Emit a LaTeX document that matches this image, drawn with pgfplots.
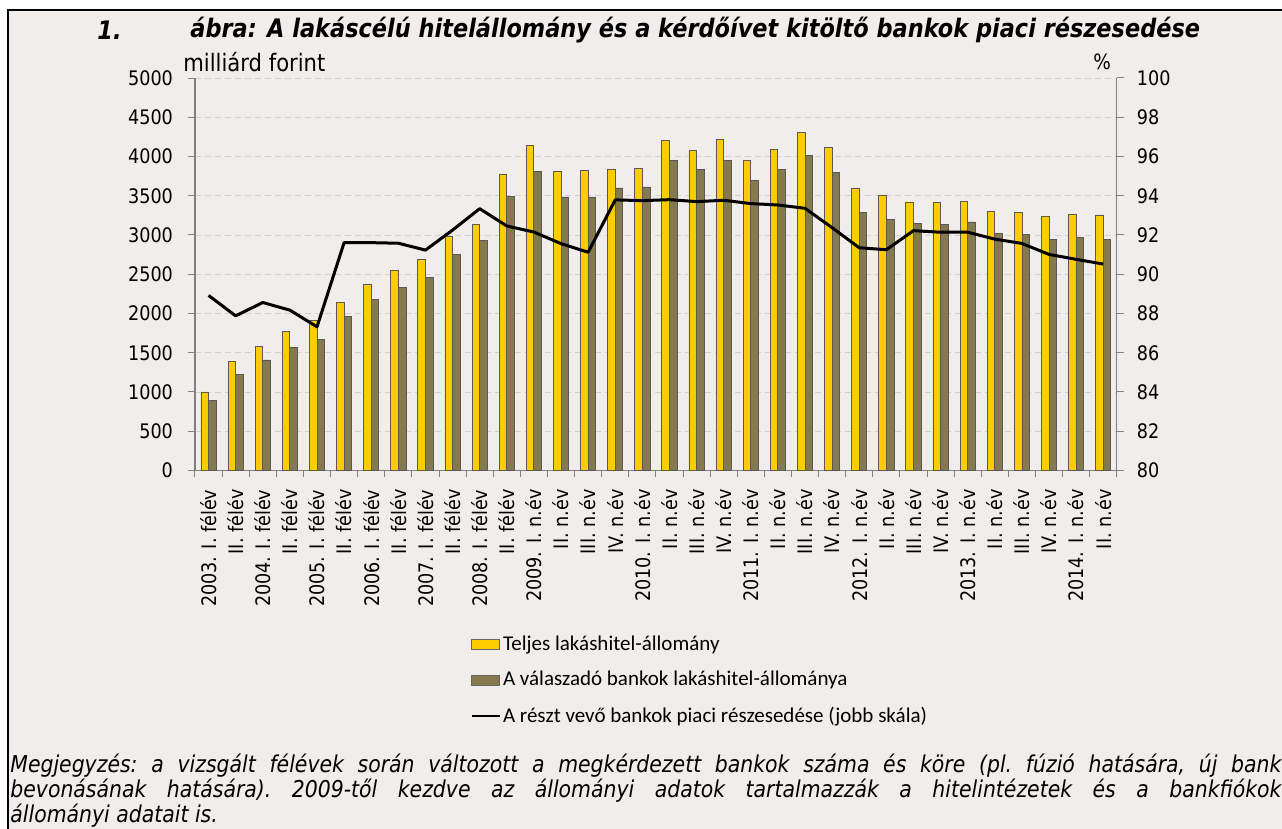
\documentclass[border=0pt]{standalone}
\usepackage{fontspec}
\setmainfont{DejaVu Sans}
\newfontfamily\tahoma[FakeStretch=0.88]{DejaVu Sans}
\newfontfamily\carlito{Carlito}
\usepackage{pgfplots}
\usepackage{pgfplotstable}
\pgfplotsset{compat=1.18}

\definecolor{bg}{RGB}{240,237,234}
\definecolor{bary}{RGB}{255,204,0}
\definecolor{barg}{RGB}{133,121,78}
\definecolor{axgray}{RGB}{128,128,128}
\definecolor{gridgray}{RGB}{212,208,204}

% x, total stock, stock of responding banks, market share (%)
\pgfplotstableread{
x  total resp share
0  1000  890  88.92
1  1390  1225 87.88
2  1583  1408 88.56
3  1774  1570 88.17
4  1915  1672 87.32
5  2136  1962 91.61
6  2374  2183 91.61
7  2544  2332 91.58
8  2689  2455 91.23
9  2983  2753 92.25
10 3140  2932 93.34
11 3774  3494 92.46
12 4145  3813 92.15
13 3808  3485 91.56
14 3821  3485 91.12
15 3838  3600 93.79
16 3843  3612 93.75
17 4204  3953 93.80
18 4081  3830 93.70
19 4213  3953 93.77
20 3949  3698 93.60
21 4089  3830 93.53
22 4302  4017 93.36
23 4115  3800 92.37
24 3596  3290 91.35
25 3510  3200 91.25
26 3421  3149 92.22
27 3412  3140 92.14
28 3425  3166 92.14
29 3298  3025 91.79
30 3290  3008 91.57
31 3238  2945 91.01
32 3264  2966 90.76
33 3255  2945 90.52
}\data

\pgfplotsset{
  common/.style={
    at={(97.5pt,179.25pt)}, anchor=south west,
    scale only axis, width=460.9pt, height=196.25pt,
    xmin=-0.5, xmax=33.5,
    tick align=outside,
    major tick length=3.5pt, minor tick length=3.5pt,
    tick style={axgray, line width=0.5pt},
    axis line style={axgray, line width=0.6pt},
    ticklabel style={font=\tahoma\fontsize{10}{12}\selectfont},
    /pgf/number format/assume math mode=true,
    /pgf/number format/1000 sep={},
  }
}

\begin{document}
\begin{tikzpicture}[x=0.5pt,y=0.5pt]
\useasboundingbox (0,0) rectangle (1282,829);
\clip (0,0) rectangle (1282,829);
\fill[white] (0,0) rectangle (1282,829);
\filldraw[fill=bg, draw=black, line width=1.2pt] (8,819) rectangle (1300,-20);

\node[anchor=west, inner sep=0, font=\tahoma\bfseries\itshape\fontsize{12.75}{15}\selectfont] at (97,799) {1.};
\node[anchor=west, inner sep=0, font=\tahoma\bfseries\itshape\fontsize{12.75}{15}\selectfont] at (190,799) {ábra: A lakáscélú hitelállomány és a kérdőívet kitöltő bankok piaci részesedése};
\node[anchor=west, inner sep=0, font=\tahoma\fontsize{12}{14}\selectfont] at (183,767) {milliárd forint};
\node[anchor=west, inner sep=0, font=\tahoma\fontsize{10.5}{12}\selectfont] at (1093,767) {\%};

\begin{axis}[common,
  ymin=0, ymax=5000, ytick={0,500,...,5000},
  axis x line*=bottom, axis y line*=left,
  yticklabel style={xshift=-4pt},
  xtick={0,...,33},
  major x tick style={draw=none},
  minor xtick={-0.5,0.5,...,33.5},
  xticklabels={{2003. I. félév},{II. félév},{2004. I. félév},{II. félév},{2005. I. félév},{II. félév},{2006. I. félév},{II. félév},{2007. I. félév},{II. félév},{2008. I. félév},{II. félév},{2009. I. n.év},{II. n.év},{III. n.év},{IV. n.év},{2010. I. n.év},{II. n.év},{III. n.év},{IV. n.év},{2011. I. n.év},{II. n.év},{III. n.év},{IV. n.év},{2012. I. n.év},{II. n.év},{III. n.év},{IV. n.év},{2013. I. n.év},{II. n.év},{III. n.év},{IV. n.év},{2014. I. n.év},{II. n.év}},
  xticklabel style={rotate=90, anchor=east},
  xticklabel shift=2.5pt,
  ymajorgrids, grid style={gridgray, dash pattern=on 3pt off 2pt, line width=0.4pt},
  legend style={at={(axis description cs:0.2984,-0.415)}, anchor=north west,
    draw=none, fill=none, font=\carlito\fontsize{10.5}{12}\selectfont,
    row sep=7pt, inner sep=0pt, nodes={inner sep=1pt}},
  legend cell align=left,
]
\addplot[ybar, bar width=3.8pt, bar shift=-1.9pt, fill=bary, draw=black!65, line width=0.4pt,
  legend image code/.code={\draw[fill=bary,draw=black!60,line width=0.4pt] (0pt,-2.6pt) rectangle (14pt,2.6pt);}]
  table[x=x, y=total] {\data};
\addlegendentry{Teljes lakáshitel-állomány}
\addplot[ybar, bar width=3.8pt, bar shift=1.9pt, fill=barg, draw=black!65, line width=0.4pt,
  legend image code/.code={\draw[fill=barg,draw=black!60,line width=0.4pt] (0pt,-2.6pt) rectangle (14pt,2.6pt);}]
  table[x=x, y=resp] {\data};
\addlegendentry{A válaszadó bankok lakáshitel-állománya}
\addlegendimage{black, line width=1.3pt, legend image code/.code={\draw[black,line width=1.3pt] (0pt,0pt) -- (14pt,0pt);}}
\addlegendentry{A részt vevő bankok piaci részesedése (jobb skála)}
\end{axis}

\begin{axis}[common,
  ymin=80, ymax=100, ytick={80,82,...,100},
  axis x line=none, axis y line*=right,
  yticklabel style={xshift=3pt},
]
\addplot[black, line width=1.5pt, line join=round] table[x=x, y=share] {\data};
\end{axis}

\node[anchor=north west, inner sep=0, text width=635.5pt, align=justify,
  font=\tahoma\itshape\fontsize{11.6}{12.3}\selectfont] at (10,75)
  {\frenchspacing Megjegyzés: a vizsgált félévek során változott a megkérdezett bankok száma és köre (pl. fúzió hatására, új bank\linebreak bevonásának hatására). 2009-től kezdve az állományi adatok tartalmazzák a hitelintézetek és a bankfiókok\linebreak állományi adatait is.};
\end{tikzpicture}
\end{document}
